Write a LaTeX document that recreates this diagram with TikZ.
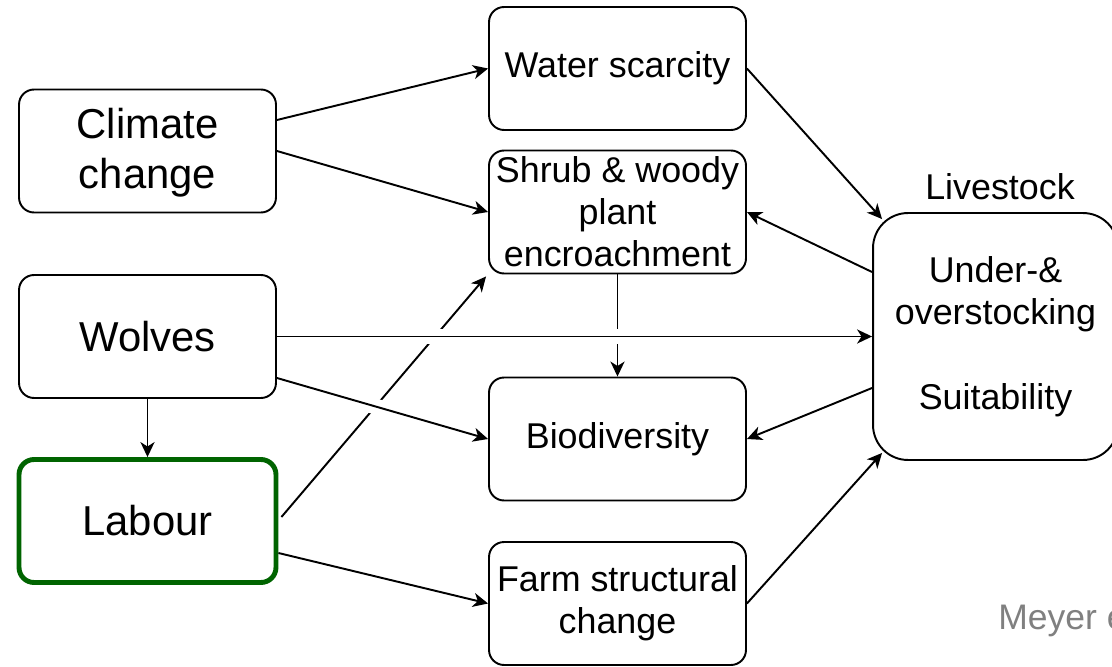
\documentclass[tikz,border=0pt]{standalone}
\usepackage{fontspec}
\setmainfont{Liberation Sans}
\usetikzlibrary{arrows.meta}
\definecolor{labgreen}{RGB}{0,100,0}
\definecolor{notegray}{RGB}{128,128,128}
\tikzset{
  box/.style={draw, line width=1.1pt, rounded corners=0.3cm, minimum width=5.14cm,
    minimum height=2.46cm, inner sep=0pt, align=center, font=\fontsize{20.4}{24}\selectfont},
  bigbox/.style={box, font=\fontsize{23.8}{28.3}\selectfont},
  arr/.style={-{Stealth[length=8.5pt,width=8pt,inset=2.5pt]}, line width=1.1pt},
  linegap/.style={draw=white, line width=9pt, shorten <=0.6cm, shorten >=0.6cm},
}

\begin{document}
\begin{tikzpicture}[x=0.02cm, y=-0.02cm]
      \useasboundingbox (0,0) rectangle (1112,666);
      \clip (0,0) rectangle (1112,666);

      \node[bigbox, text depth=0.12cm] (clim) at (147.5,151) {Climate\\change};
      \node[bigbox] (wolf) at (147.5,336.5) {Wolves};
      \node[bigbox, draw=labgreen, line width=2.8pt] (lab) at (147.5,521) {Labour};

      \node[box] (water) at (617.5,68.5) {Water scarcity};
      \node[box] (shrub) at (617.5,212) {Shrub \& woody\\plant\\encroachment};
      \node[box] (bio) at (617.5,439) {Biodiversity};
      \node[box] (farm) at (617.5,603.5) {Farm structural\\change};

      \node[box, minimum width=4.9cm, minimum height=4.94cm, rounded corners=0.7cm] (live) at (995.5,336.5)
        {Under-\&\\overstocking\\[0.85cm]Suitability};
      \node[font=\fontsize{20.4}{24}\selectfont] (livelbl) at (1000,187) {Livestock};
      \node[anchor=west, inner sep=0pt, text=notegray, font=\fontsize{20.2}{24}\selectfont] (note) at (998,620) {Meyer et al.};

      \draw[arr] ([yshift=0.62cm]clim.east) -- (water.west);
      \draw[arr] (clim.east) -- (shrub.west);
      \draw[arr] (water.east) -- ([xshift=0.2cm,yshift=-0.14cm]live.north west);
      \draw[arr] ([yshift=1.29cm]live.west) -- (shrub.east);
      \draw[arr] ([yshift=-1.03cm]live.west) -- (bio.east);
      \draw[arr] (farm.east) -- ([xshift=0.2cm,yshift=0.16cm]live.south west);
      \draw[arr] (wolf.south) -- (lab.north);
      \draw[arr] ([yshift=-0.64cm]lab.east) -- (farm.west);
      \draw[arr] ([xshift=0.06cm,yshift=0.08cm]lab.east) -- ([xshift=-0.04cm,yshift=-0.04cm]shrub.south west);
      \draw[arr] (shrub.south) -- (bio.north);

      \draw[linegap] (wolf.east) -- (live.west);
      \draw[linegap] ([yshift=-0.83cm]wolf.east) -- (bio.west);
      \draw[arr] (wolf.east) -- (live.west);
      \draw[arr] ([yshift=-0.83cm]wolf.east) -- (bio.west);
    \end{tikzpicture}
\end{document}
